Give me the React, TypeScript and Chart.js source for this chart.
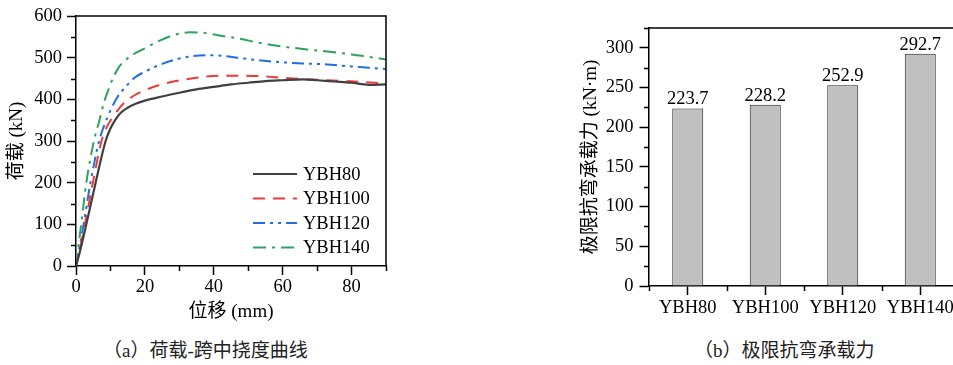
import React, { useEffect, useRef } from 'react';
import { Chart, registerables } from 'chart.js';

Chart.register(...registerables);

const LATIN = "'Liberation Serif', serif";
const MIXED = "'Liberation Serif', 'Noto Sans CJK SC', serif";

// ---- Left chart data: load vs mid-span deflection ----
const dispYBH80 = [0, 1, 3, 5.7, 8.6, 10, 11.5, 13, 15, 17.5, 20, 25, 30, 35, 40, 45, 50, 55, 60, 66, 70, 75, 80, 85, 90];
const loadYBH80 = [0, 30, 100, 200, 300, 330, 352, 368, 380, 390, 397, 407, 416, 424, 430, 436, 440, 444, 446, 448, 446, 443, 440, 435, 436];

const dispYBH100 = [0, 2, 4.9, 7.4, 9, 10.5, 12.5, 14.6, 17, 19.4, 24, 29, 35, 41.7, 47, 53, 58, 63, 68, 73, 78, 83, 87, 90];
const loadYBH100 = [0, 75, 200, 300, 335, 355, 378, 396, 410, 420, 434, 444, 452, 457, 457, 456, 453, 450, 448, 446, 444, 442, 440, 438];

const dispYBH120 = [0, 2, 4.2, 6.7, 8.3, 9.8, 12, 14.6, 17, 19.4, 24, 29, 33, 37.8, 42, 47, 53, 60, 67, 73, 80, 85, 90];
const loadYBH120 = [0, 90, 200, 300, 340, 370, 405, 432, 452, 464, 482, 496, 503, 506, 505, 500, 494, 489, 486, 484, 479, 476, 473];

const dispYBH140 = [0, 1.5, 3, 5.2, 6.8, 8.2, 9.5, 10.7, 12.5, 14.6, 17, 19.4, 24, 29, 33, 37, 42, 48, 53, 60, 67, 73, 80, 85, 90];
const loadYBH140 = [0, 100, 200, 300, 350, 395, 425, 450, 478, 496, 510, 520, 540, 556, 561, 560, 553, 545, 536, 527, 520, 515, 508, 502, 496];

const seriesLabels = ['YBH80', 'YBH100', 'YBH120', 'YBH140'];

// ---- Right chart data: ultimate flexural capacity ----
const barCategories = ['YBH80', 'YBH100', 'YBH120', 'YBH140'];
const barValues = [223.7, 228.2, 252.9, 292.7];

const leftXTicks = { min: 0, max: 90, step: 20, minorStep: 10 };
const leftYTicks = { min: 0, max: 600, step: 100, minorStep: 50 };
const rightYTicks = { min: 0, max: 325, step: 50, minorStep: 25 };

function toPoints(xs: number[], ys: number[]) {
  return xs.map((x, i) => ({ x, y: ys[i] }));
}

const frameAndMinor = {
  id: 'frameAndMinor',
  afterDraw(chart: any, _args: any, opts: any) {
    const ctx = chart.ctx;
    const { left, right, top, bottom } = chart.chartArea;
    ctx.save();
    ctx.strokeStyle = '#000';
    ctx.lineWidth = 1.5;
    ctx.setLineDash([]);
    ctx.beginPath();
    ctx.moveTo(left, top);
    ctx.lineTo(right, top);
    ctx.lineTo(right, bottom);
    ctx.stroke();
    const len = opts.len || 5;
    const xs = chart.scales.x;
    const ys = chart.scales.y;
    ctx.beginPath();
    (opts.xValues || []).forEach((v: number) => {
      const px = Math.round(xs.getPixelForValue(v)) + 0.5;
      ctx.moveTo(px, bottom);
      ctx.lineTo(px, bottom + len);
    });
    (opts.yValues || []).forEach((v: number) => {
      const py = Math.round(ys.getPixelForValue(v)) + 0.5;
      ctx.moveTo(left - len, py);
      ctx.lineTo(left, py);
    });
    ctx.stroke();
    ctx.restore();
  },
};

const insideLegend = {
  id: 'insideLegend',
  afterDraw(chart: any, _args: any, opts: any) {
    if (!opts || !opts.show) return;
    const ctx = chart.ctx;
    const { right, bottom } = chart.chartArea;
    const rowGap = 24.5;
    const n = chart.data.datasets.length;
    ctx.save();
    ctx.font = `18.5px ${LATIN}`;
    ctx.textBaseline = 'middle';
    ctx.textAlign = 'left';
    chart.data.datasets.forEach((ds: any, i: number) => {
      const y = bottom - 18.5 - (n - 1 - i) * rowGap;
      const x0 = right - 133;
      const x1 = right - 89;
      ctx.strokeStyle = ds.borderColor;
      ctx.lineWidth = ds.borderWidth;
      ctx.setLineDash(ds.borderDash || []);
      ctx.beginPath();
      ctx.moveTo(x0, y);
      ctx.lineTo(x1, y);
      ctx.stroke();
      ctx.setLineDash([]);
      ctx.fillStyle = '#000';
      ctx.fillText(ds.label, right - 83, y + 1);
    });
    ctx.restore();
  },
};

const barLabels = {
  id: 'barLabels',
  afterDatasetsDraw(chart: any, _args: any, opts: any) {
    if (!opts || !opts.show) return;
    const ctx = chart.ctx;
    ctx.save();
    ctx.font = `18.5px ${LATIN}`;
    ctx.fillStyle = '#000';
    ctx.textAlign = 'center';
    ctx.textBaseline = 'alphabetic';
    const meta = chart.getDatasetMeta(0);
    meta.data.forEach((bar: any, i: number) => {
      const v = chart.data.datasets[0].data[i];
      ctx.fillText(Number(v).toFixed(1), bar.x, bar.y - 4);
    });
    ctx.restore();
  },
};

function range(min: number, max: number, step: number, skipStep: number) {
  const out: number[] = [];
  for (let v = min; v <= max + 1e-9; v += step) {
    if (Math.abs(v / skipStep - Math.round(v / skipStep)) > 1e-9) out.push(v);
  }
  return out;
}

function LeftChart() {
  const ref = useRef<HTMLCanvasElement>(null);
  useEffect(() => {
    const tickFont = { family: LATIN, size: 18.5 };
    const titleFont = { family: MIXED, size: 19 };
    const chart = new Chart(ref.current as HTMLCanvasElement, {
      type: 'line',
      data: {
        datasets: [
          { label: seriesLabels[0], data: toPoints(dispYBH80, loadYBH80), borderColor: '#404040', borderWidth: 2.2, borderDash: [], pointRadius: 0, cubicInterpolationMode: 'monotone', fill: false },
          { label: seriesLabels[1], data: toPoints(dispYBH100, loadYBH100), borderColor: '#f03a3a', borderWidth: 2, borderDash: [12, 8], pointRadius: 0, cubicInterpolationMode: 'monotone', fill: false },
          { label: seriesLabels[2], data: toPoints(dispYBH120, loadYBH120), borderColor: '#1f6fe3', borderWidth: 2, borderDash: [12, 5, 3, 5, 3, 5], pointRadius: 0, cubicInterpolationMode: 'monotone', fill: false },
          { label: seriesLabels[3], data: toPoints(dispYBH140, loadYBH140), borderColor: '#2ea35e', borderWidth: 2, borderDash: [13, 6, 3, 6], pointRadius: 0, cubicInterpolationMode: 'monotone', fill: false },
        ] as any,
      },
      options: {
        responsive: false,
        animation: false,
        devicePixelRatio: 1,
        layout: { padding: { left: 0, top: 15, right: 34, bottom: 0 } },
        plugins: {
          legend: { display: false },
          tooltip: { enabled: false },
          frameAndMinor: {
            len: 5,
            xValues: range(leftXTicks.min, leftXTicks.max, leftXTicks.minorStep, leftXTicks.step),
            yValues: range(leftYTicks.min, leftYTicks.max, leftYTicks.minorStep, leftYTicks.step),
          },
          insideLegend: { show: true },
        } as any,
        scales: {
          x: {
            type: 'linear',
            min: leftXTicks.min,
            max: leftXTicks.max,
            bounds: 'ticks',
            ticks: { stepSize: leftXTicks.step, includeBounds: false, font: tickFont, color: '#000', padding: 1, maxRotation: 0 },
            grid: { drawOnChartArea: false, drawTicks: true, tickLength: 9, tickWidth: 1.5, tickColor: '#000' },
            border: { display: true, color: '#000', width: 1.5 },
            title: { display: true, text: '位移 (mm)', font: titleFont, color: '#000', padding: { top: 0, bottom: 7 } },
            afterFit: (s: any) => { s.height = 64; },
          } as any,
          y: {
            type: 'linear',
            min: leftYTicks.min,
            max: leftYTicks.max,
            ticks: { stepSize: leftYTicks.step, font: tickFont, color: '#000', padding: 5 },
            grid: { drawOnChartArea: false, drawTicks: true, tickLength: 9, tickWidth: 1.5, tickColor: '#000' },
            border: { display: true, color: '#000', width: 1.5 },
            title: { display: true, text: '荷载 (kN)', font: titleFont, color: '#000', padding: { top: 6, bottom: 0 } },
            afterFit: (s: any) => { s.width = 76; },
          } as any,
        },
      },
      plugins: [frameAndMinor, insideLegend],
    });
    return () => chart.destroy();
  }, []);
  return <canvas ref={ref} width={420} height={330} style={{ position: 'absolute', left: 0, top: 0, width: 420, height: 330 }} />;
}

function RightChart() {
  const ref = useRef<HTMLCanvasElement>(null);
  useEffect(() => {
    const tickFont = { family: LATIN, size: 18.5 };
    const titleFont = { family: MIXED, size: 19 };
    const chart = new Chart(ref.current as HTMLCanvasElement, {
      type: 'bar',
      data: {
        labels: barCategories,
        datasets: [
          {
            label: '极限抗弯承载力',
            data: barValues,
            backgroundColor: '#c0c0c0',
            borderColor: '#222',
            borderWidth: 1,
            borderSkipped: 'bottom',
            categoryPercentage: 1,
            barPercentage: 0.4,
          },
        ],
      },
      options: {
        responsive: false,
        animation: false,
        devicePixelRatio: 1,
        layout: { padding: { left: 0, top: 28, right: 21, bottom: 0 } },
        plugins: {
          legend: { display: false },
          tooltip: { enabled: false },
          frameAndMinor: {
            len: 5,
            xValues: barCategories.map((_, i) => i - 0.5).concat([barCategories.length - 0.5]),
            yValues: range(rightYTicks.min, rightYTicks.max, rightYTicks.minorStep, rightYTicks.step),
          },
          barLabels: { show: true },
        } as any,
        scales: {
          x: {
            type: 'category',
            offset: true,
            ticks: { font: tickFont, color: '#000', padding: 2, maxRotation: 0, autoSkip: false },
            grid: { offset: false, drawOnChartArea: false, drawTicks: true, tickLength: 9, tickWidth: 1.5, tickColor: '#000' },
            border: { display: true, color: '#000', width: 1.5 },
            afterFit: (s: any) => { s.height = 44; },
          } as any,
          y: {
            type: 'linear',
            min: rightYTicks.min,
            max: rightYTicks.max,
            bounds: 'ticks',
            ticks: { stepSize: rightYTicks.step, includeBounds: false, font: tickFont, color: '#000', padding: 6 },
            grid: { drawOnChartArea: false, drawTicks: true, tickLength: 9.5, tickWidth: 1.5, tickColor: '#000' },
            border: { display: true, color: '#000', width: 1.5 },
            title: { display: true, text: '极限抗弯承载力 (kN·m)', font: titleFont, color: '#000', padding: { top: 20, bottom: 0 } },
            afterFit: (s: any) => { s.width = 89; },
          } as any,
        },
      },
      plugins: [frameAndMinor, barLabels],
    });
    return () => chart.destroy();
  }, []);
  return <canvas ref={ref} width={420} height={330} style={{ position: 'absolute', left: 560, top: 0, width: 420, height: 330 }} />;
}

export default function App() {
  const captionStyle: React.CSSProperties = {
    position: 'absolute',
    top: 340,
    fontFamily: MIXED,
    fontSize: 19,
    lineHeight: '22px',
    color: '#222',
    whiteSpace: 'nowrap',
  };
  return (
    <div style={{ position: 'fixed', left: 0, top: 0, width: 953, height: 365, overflow: 'hidden', background: '#fff' }}>
      <LeftChart />
      <RightChart />
      <div style={{ ...captionStyle, left: 103 }}>（a）荷载-跨中挠度曲线</div>
      <div style={{ ...captionStyle, left: 694 }}>（b）极限抗弯承载力</div>
    </div>
  );
}
